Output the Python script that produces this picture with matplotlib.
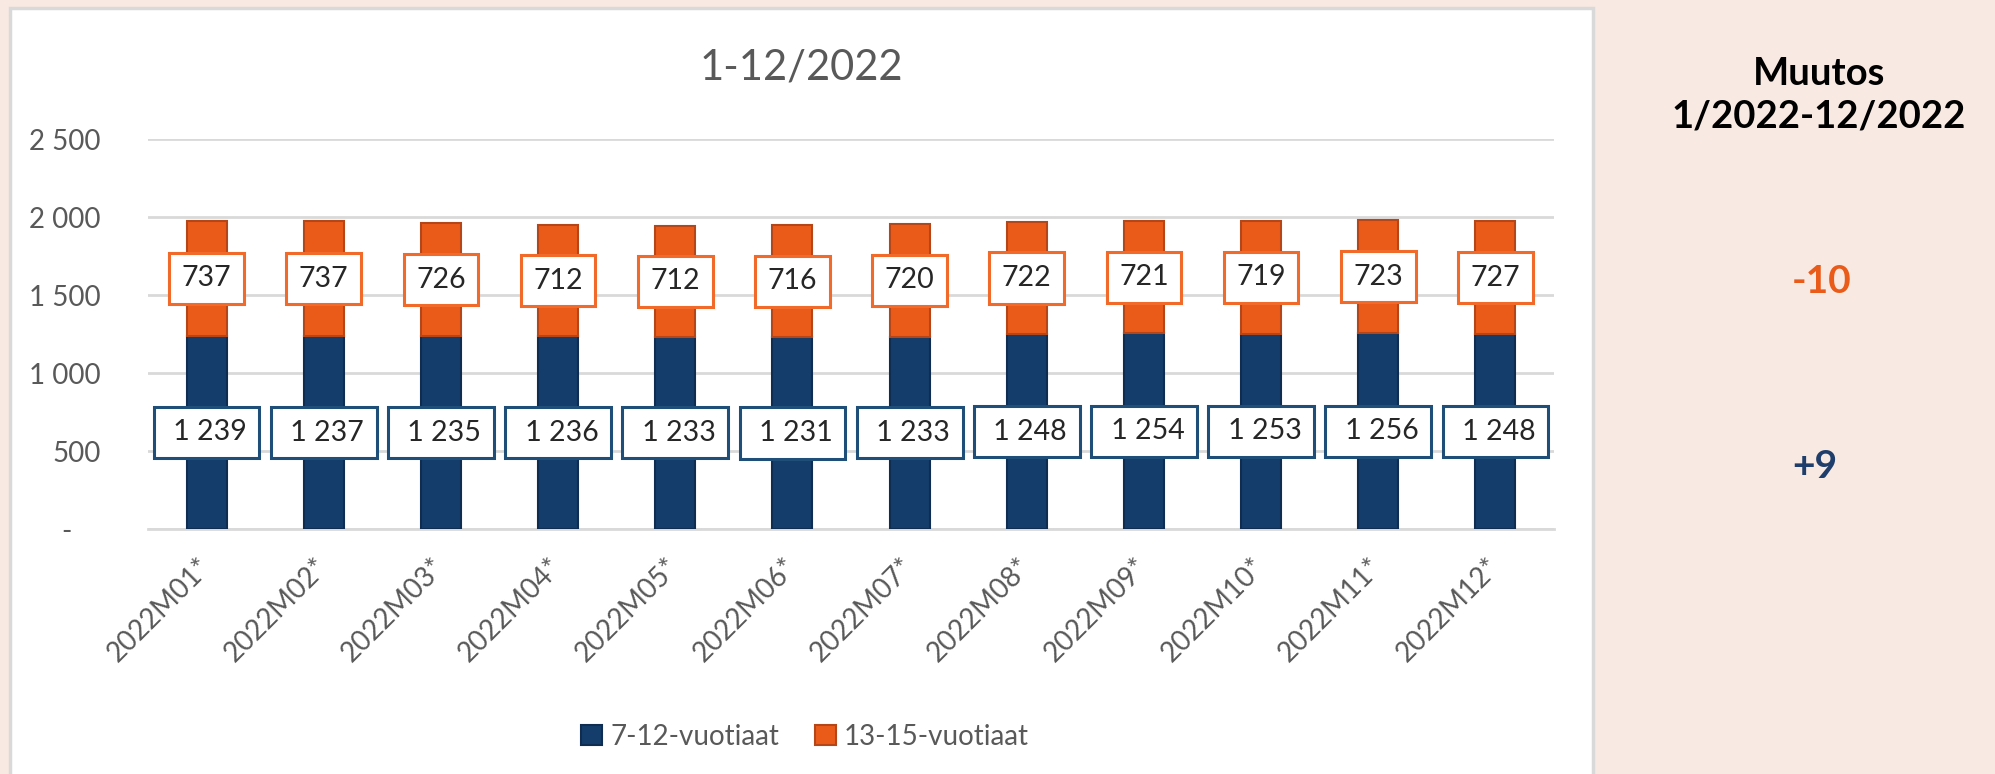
import matplotlib
matplotlib.use("Agg")
import matplotlib.pyplot as plt
from matplotlib.patches import Rectangle
import numpy as np

categories = ["2022M01*", "2022M02*", "2022M03*", "2022M04*", "2022M05*", "2022M06*",
              "2022M07*", "2022M08*", "2022M09*", "2022M10*", "2022M11*", "2022M12*"]
young = [1239, 1237, 1235, 1236, 1233, 1231, 1233, 1248, 1254, 1253, 1256, 1248]
older = [737, 737, 726, 712, 712, 716, 720, 722, 721, 719, 723, 727]
series_names = ["7-12-vuotiaat", "13-15-vuotiaat"]
yticks = [0, 500, 1000, 1500, 2000, 2500]
title = "1-12/2022"
side_title = "Muutos\n1/2022-12/2022"
change_older = "-10"
change_young = "+9"

BLUE = "#143D6B"
BLUE_EDGE = "#0E2D50"
BLUE_BOX = "#1F4E79"
ORANGE = "#EA5B19"
ORANGE_EDGE = "#B5461A"
ORANGE_BOX = "#F26A2A"
GRAY = "#595959"
GRID = "#D9D9D9"
BG = "#F8E9E2"

plt.rcParams["font.family"] = ["Lato", "DejaVu Sans"]

W, H = 1995, 774
fig = plt.figure(figsize=(W / 100, H / 100), dpi=100)
fig.patch.set_facecolor(BG)

# white chart panel
panel = Rectangle((10 / W, -0.05), (1593 - 10) / W, 1 - 8 / H + 0.05,
                  transform=fig.transFigure, facecolor="white",
                  edgecolor=GRID, linewidth=2.5, zorder=-10)
fig.patches.append(panel)

ax = fig.add_axes([148 / W, 1 - 529 / H, (1554 - 148) / W, (529 - 139) / H])
ax.set_zorder(5)
ax.patch.set_alpha(0)

x = np.arange(len(categories))
bw = 0.34
ax.bar(x, young, bw, color=BLUE, edgecolor=BLUE_EDGE, linewidth=1.5,
       label=series_names[0], zorder=3)
ax.bar(x, older, bw, bottom=young, color=ORANGE, edgecolor=ORANGE_EDGE,
       linewidth=1.5, label=series_names[1], zorder=3)

def fmt(v):
    return f"{v:,}".replace(",", " ")

for xi, yv, ov in zip(x, young, older):
    ax.text(xi, yv / 2, " " + fmt(yv), ha="center", va="center", fontsize=20.5,
            color="#262626", zorder=5,
            bbox=dict(boxstyle="square,pad=0.44", facecolor="white",
                      edgecolor=BLUE_BOX, linewidth=2.2))
    ax.text(xi, yv + ov / 2, fmt(ov), ha="center", va="center", fontsize=20.5,
            color="#262626", zorder=5,
            bbox=dict(boxstyle="square,pad=0.44", facecolor="white",
                      edgecolor=ORANGE_BOX, linewidth=2.2))

ax.set_xlim(-0.5, len(categories) - 0.5)
ax.set_ylim(0, 2500)
ax.set_yticks(yticks)
ax.set_yticklabels([fmt(v) if v else "-    " for v in yticks])
ax.yaxis.grid(True, color=GRID, linewidth=2, zorder=0)
ax.set_axisbelow(True)
for s in ["top", "right", "left"]:
    ax.spines[s].set_visible(False)
ax.spines["bottom"].set_color(GRID)
ax.spines["bottom"].set_linewidth(2)
ax.tick_params(axis="both", length=0, labelsize=20, labelcolor=GRAY)
ax.tick_params(axis="y", pad=34)
ax.set_xticks(x)
ax.set_xticklabels(categories, rotation=45, ha="right", va="center",
                   rotation_mode="anchor")
ax.tick_params(axis="x", pad=24)

fig.text(801 / W, 1 - 67 / H, title, ha="center", va="center", fontsize=30,
         color=GRAY)

fig.legend(loc="center", bbox_to_anchor=(805 / W, 1 - 737 / H), ncol=2,
           frameon=False, fontsize=20, labelcolor=GRAY, handlelength=0.75,
           handleheight=0.75, handletextpad=0.3, columnspacing=1.3)

fig.text(1819 / W, 1 - 95 / H, side_title, ha="center", va="center",
         fontsize=27.5, fontweight="bold", color="black", linespacing=1.3)
fig.text(1822 / W, 1 - 281 / H, change_older, ha="center", va="center",
         fontsize=28, fontweight="bold", color=ORANGE)
fig.text(1815 / W, 1 - 466 / H, change_young, ha="center", va="center",
         fontsize=28, fontweight="bold", color="#1F3E6B")

fig.savefig("out.png", dpi=100, facecolor=fig.get_facecolor())
